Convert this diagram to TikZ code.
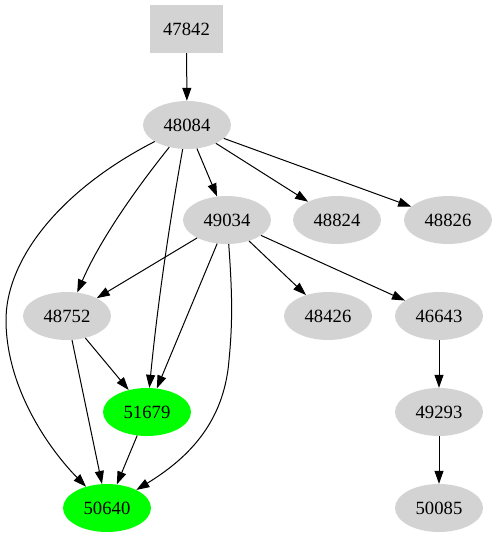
\documentclass[tikz,border=0pt]{standalone}
\usepackage{fontspec}
\setmainfont{Liberation Serif}
\usetikzlibrary{shapes.geometric,arrows.meta}
\definecolor{nodegray}{HTML}{D3D3D3}
\definecolor{nodegreen}{HTML}{00FF00}
\begin{document}
\begin{tikzpicture}[x=1pt,y=-1pt,
  every node/.style={font=\fontsize{18.67}{22}\selectfont, inner sep=0pt},
  ell/.style={ellipse, fill=nodegray, minimum width=88pt, minimum height=48pt},
  gell/.style={ellipse, fill=nodegreen, minimum width=88pt, minimum height=48pt},
  boxnode/.style={rectangle, fill=nodegray, minimum width=73pt, minimum height=48pt},
  edge/.style={draw=black, line width=1pt, -{Triangle[length=13pt,width=9pt]}}]
\useasboundingbox (0,0) rectangle (497,539);
\node[boxnode] (n47842) at (186.5,29) {47842};
\node[ell] (n48084) at (187,125) {48084};
\node[ell] (n49034) at (227,220) {49034};
\node[ell] (n48824) at (337,220) {48824};
\node[ell] (n48826) at (448,220) {48826};
\node[ell] (n48752) at (67,316) {48752};
\node[ell] (n48426) at (328,316) {48426};
\node[ell] (n46643) at (439,316) {46643};
\node[gell] (n51679) at (147,412) {51679};
\node[ell] (n49293) at (439,412) {49293};
\node[gell] (n50640) at (107,508) {50640};
\node[ell] (n50085) at (439,508) {50085};
\coordinate (c1) at (6,322);
\coordinate (c2) at (229,360);
\draw[edge] (n47842) -- (n48084);
\draw[edge] (n48084) -- (n49034);
\draw[edge] (n48084) -- (n48824);
\draw[edge] (n48084) -- (n48826);
\draw[edge] (n48084) .. controls (135,190) and (100,240) .. (n48752);
\draw[edge] (n48084) .. controls (170,220) and (158,300) .. (n51679);
\draw[edge] (n48084) .. controls (60,190) and (5,260) .. (c1) .. controls (7,390) and (50,450) .. (n50640);
\draw[edge] (n49034) -- (n48752);
\draw[edge] (n49034) -- (n51679);
\draw[edge] (n49034) .. controls (232,290) and (233,320) .. (c2) .. controls (224,425) and (185,460) .. (n50640);
\draw[edge] (n49034) -- (n48426);
\draw[edge] (n49034) -- (n46643);
\draw[edge] (n48752) -- (n51679);
\draw[edge] (n48752) -- (n50640);
\draw[edge] (n51679) -- (n50640);
\draw[edge] (n46643) -- (n49293);
\draw[edge] (n49293) -- (n50085);
\end{tikzpicture}
\end{document}
